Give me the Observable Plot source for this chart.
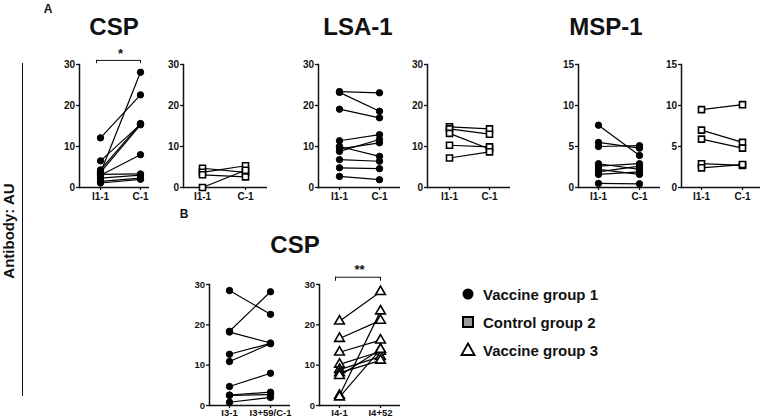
<!DOCTYPE html>
<html><head><meta charset="utf-8">
<script src="https://cdn.jsdelivr.net/npm/d3@7"></script>
<script src="https://cdn.jsdelivr.net/npm/@observablehq/plot@0.6"></script>
<style>
body{margin:0;background:#fff;}
#root{position:relative;width:763px;height:419px;background:#fff;overflow:hidden;font-family:"Liberation Sans",Arial,sans-serif;color:#111;}
.abs{position:absolute;}
.title{position:absolute;font-weight:bold;font-size:24px;transform:translate(-50%,-50%);white-space:nowrap;}
.lbl{position:absolute;font-weight:bold;font-size:12px;transform:translate(-50%,-50%);}
.leg{position:absolute;font-weight:bold;font-size:15px;white-space:nowrap;transform:translateY(-50%);}
</style></head>
<body><div id="root"></div>
<script>
// ---- data ----
const catsA = ["I1-1", "C-1"];
const catsB1 = ["I3-1", "I3+59/C-1"];
const catsB2 = ["I4-1", "I4+52"];
const ticks30 = [0, 10, 20, 30];
const ticks15 = [0, 5, 10, 15];

const cspG1Pre  = [12.1, 3.6, 4.3, 3.7, 6.5, 3.0, 3.2, 2.3, 1.5, 1.1];
const cspG1Post = [22.6, 28.1, 15.6, 15.3, 15.4, 8.0, 3.3, 3.0, 2.3, 2.0];
const cspG2Pre  = [4.7, 3.7, 3.1, 0.0];
const cspG2Post = [3.7, 5.3, 2.6, 4.2];
const lsaG1Pre  = [23.4, 23.2, 19.1, 11.4, 8.8, 9.4, 10.0, 6.8, 4.8, 2.7];
const lsaG1Post = [23.1, 18.6, 17.0, 12.9, 11.7, 10.9, 7.6, 6.4, 4.6, 1.9];
const lsaG2Pre  = [14.8, 14.3, 13.2, 10.3, 7.2];
const lsaG2Post = [14.3, 13.0, 9.4, 9.9, 8.7];
const mspG1Pre  = [7.6, 5.5, 5.0, 2.9, 2.6, 2.2, 1.9, 1.6, 0.5];
const mspG1Post = [3.9, 4.8, 5.1, 2.2, 2.9, 1.6, 2.6, 1.9, 0.45];
const mspG2Pre  = [9.5, 7.0, 5.9, 2.9, 2.4];
const mspG2Post = [10.1, 5.5, 4.8, 2.7, 2.8];
const cspBG1Pre  = [28.5, 18.4, 18.2, 12.7, 10.9, 4.7, 2.6, 2.5, 0.8];
const cspBG1Post = [22.6, 28.2, 15.5, 15.4, 15.3, 8.0, 3.3, 2.7, 2.0];
const cspBG3Pre  = [20.9, 16.6, 13.2, 10.2, 8.9, 8.1, 7.4, 2.5, 2.1];
const cspBG3Post = [28.2, 21.1, 16.2, 13.4, 12.1, 11.2, 13.9, 23.4, 13.9];

const titles = ["CSP", "LSA-1", "MSP-1", "CSP"];
const legendLabels = ["Vaccine group 1", "Control group 2", "Vaccine group 3"];

// ---- styles per group ----
const groupStyle = {
  g1: {symbol: "circle", r: 3.2, fill: "black", stroke: "black", strokeWidth: 1},
  g2: {symbol: "square", r: 3.4, fill: "white", stroke: "black", strokeWidth: 1.6},
  g3: {symbol: "triangle", r: 3.6, fill: "white", stroke: "black", strokeWidth: 1.6}
};

const root = document.getElementById("root");
const FONT = '"Liberation Sans", Arial, sans-serif';

function panel(cfg) {
  const {pre, post, cats, group, ymax, ticks, axisX, endX, c1, c2, top, height, y0, yTop, sig, fs = 10, pad = 2} = cfg;
  const left = axisX - 32;
  const width = endX - left + 2;
  const rows = pre.map((p, i) => ({pre: p, post: post[i]}));
  const st = groupStyle[group];
  const marks = [
    Plot.frame({anchor: "left", strokeWidth: 1.5}),
    Plot.ruleY([0], {strokeWidth: 1.5}),
    Plot.axisY({ticks, tickSize: 3, tickPadding: 1.5, label: null, strokeWidth: 1.3}),
    Plot.axisX({tickSize: 3, tickPadding: pad, label: null, strokeWidth: 1.3}),
    Plot.link(rows, {x1: () => cats[0], y1: "pre", x2: () => cats[1], y2: "post", stroke: "black", strokeWidth: 1.2}),
    Plot.dot(rows, {x: () => cats[0], y: "pre", ...st}),
    Plot.dot(rows, {x: () => cats[1], y: "post", ...st})
  ];
  if (sig) {
    marks.push(
      Plot.ruleY([sig.y], {y: d => d, x1: () => cats[0], x2: () => cats[1], insetLeft: -4, strokeWidth: 1}),
      Plot.ruleX([cats[0]], {x: d => d, y1: () => sig.y, y2: () => sig.y0, dx: -4, strokeWidth: 1}),
      Plot.ruleX([cats[1]], {x: d => d, y1: () => sig.y, y2: () => sig.y0, strokeWidth: 1}),
      Plot.text([sig.label], {x: () => cats[0], y: () => sig.y, dx: 20, dy: -7, text: d => d, fontSize: 13, fontWeight: "bold"})
    );
  }
  const svg = Plot.plot({
    width, height,
    marginLeft: axisX - left, marginRight: width - (endX - left),
    marginTop: yTop - top, marginBottom: top + height - y0,
    style: {background: "transparent", fontFamily: FONT, fontSize: fs + "px", fontWeight: "bold", color: "#111", overflow: "visible"},
    x: {type: "point", domain: cats, range: [c1 - left, c2 - left], padding: 0, align: 0.5},
    y: {domain: [0, ymax]},
    marks
  });
  svg.style.position = "absolute";
  svg.style.left = left + "px";
  svg.style.top = top + "px";
  root.appendChild(svg);
}

const A = {top: 40, height: 170, y0: 187, yTop: 64};
const B = {top: 258, height: 161, y0: 405, yTop: 284, fs: 9.5, pad: 1};

panel({...A, pre: cspG1Pre, post: cspG1Post, cats: catsA, group: "g1", ymax: 30, ticks: ticks30, axisX: 79, endX: 149, c1: 100, c2: 140, sig: {y: 31, y0: 30.2, label: "*"}});
panel({...A, pre: cspG2Pre, post: cspG2Post, cats: catsA, group: "g2", ymax: 30, ticks: ticks30, axisX: 183, endX: 267, c1: 202, c2: 245});
panel({...A, pre: lsaG1Pre, post: lsaG1Post, cats: catsA, group: "g1", ymax: 30, ticks: ticks30, axisX: 318, endX: 400, c1: 339, c2: 379});
panel({...A, pre: lsaG2Pre, post: lsaG2Post, cats: catsA, group: "g2", ymax: 30, ticks: ticks30, axisX: 427, endX: 510, c1: 449, c2: 489});
panel({...A, pre: mspG1Pre, post: mspG1Post, cats: catsA, group: "g1", ymax: 15, ticks: ticks15, axisX: 578, endX: 660, c1: 598, c2: 639});
panel({...A, pre: mspG2Pre, post: mspG2Post, cats: catsA, group: "g2", ymax: 15, ticks: ticks15, axisX: 681, endX: 760, c1: 701, c2: 742});
panel({...B, pre: cspBG1Pre, post: cspBG1Post, cats: catsB1, group: "g1", ymax: 30, ticks: ticks30, axisX: 209, endX: 290, c1: 229, c2: 270});
panel({...B, pre: cspBG3Pre, post: cspBG3Post, cats: catsB2, group: "g3", ymax: 30, ticks: ticks30, axisX: 319, endX: 400, c1: 339, c2: 380, sig: {y: 31.8, y0: 30.8, label: "**"}});

// titles
const titlePos = [[114, 27], [358, 27], [606, 27], [295, 245]];
titles.forEach((t, i) => {
  const d = document.createElement("div");
  d.className = "title"; d.textContent = t;
  d.style.left = titlePos[i][0] + "px"; d.style.top = titlePos[i][1] + "px";
  root.appendChild(d);
});
[["A", 48, 9], ["B", 184, 214]].forEach(([t, x, y]) => {
  const d = document.createElement("div");
  d.className = "lbl"; d.textContent = t;
  d.style.left = x + "px"; d.style.top = y + "px";
  root.appendChild(d);
});
// y label + bracket line
const vline = document.createElement("div");
vline.className = "abs";
Object.assign(vline.style, {left: "21.5px", top: "63px", width: "1.5px", height: "333px", background: "#111"});
root.appendChild(vline);
const ylab = document.createElement("div");
ylab.className = "abs";
ylab.textContent = "Antibody: AU";
Object.assign(ylab.style, {left: "8px", top: "231px", transform: "translate(-50%,-50%) rotate(-90deg)", fontWeight: "bold", fontSize: "15px", whiteSpace: "nowrap"});
root.appendChild(ylab);

// legend
const legSym = [
  '<circle cx="8" cy="8" r="5.5" fill="black"/>',
  '<rect x="3" y="3" width="10" height="10" fill="#9a9a9a" stroke="black" stroke-width="2"/>',
  '<path d="M8,1.5 L14.5,13 L1.5,13 Z" fill="white" stroke="black" stroke-width="1.8"/>'
];
const legY = [294, 322, 350];
legendLabels.forEach((t, i) => {
  const s = document.createElementNS("http://www.w3.org/2000/svg", "svg");
  s.setAttribute("width", 16); s.setAttribute("height", 16);
  s.innerHTML = legSym[i];
  Object.assign(s.style, {position: "absolute", left: "460px", top: (legY[i] - 8) + "px"});
  root.appendChild(s);
  const d = document.createElement("div");
  d.className = "leg"; d.textContent = t;
  d.style.left = "483px"; d.style.top = legY[i] + "px";
  root.appendChild(d);
});
</script>
</body></html>
